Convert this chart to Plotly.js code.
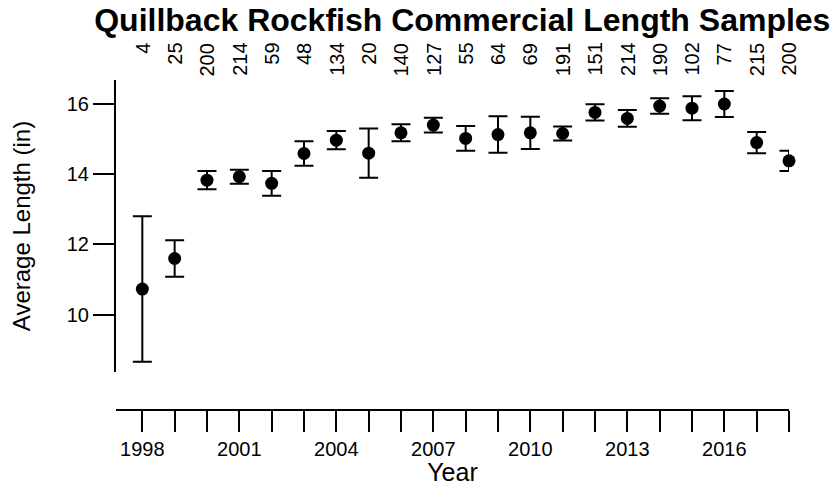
<!DOCTYPE html>
<html>
<head>
<meta charset="utf-8">
<script src="https://cdn.plot.ly/plotly-3.0.1.min.js"></script>
<style>html,body{margin:0;padding:0;background:#fff;}#chart{width:836px;height:486px;}</style>
</head>
<body>
<div id="chart"></div>
<script>
// Data
var years = [1998,1999,2000,2001,2002,2003,2004,2005,2006,2007,2008,2009,2010,2011,2012,2013,2014,2015,2016,2017,2018];
var avgLength = [10.73,11.60,13.83,13.93,13.74,14.59,14.97,14.60,15.18,15.40,15.02,15.13,15.18,15.16,15.76,15.59,15.94,15.88,16.00,14.90,14.38];
var errLength = [2.07,0.52,0.26,0.20,0.35,0.35,0.26,0.70,0.24,0.21,0.35,0.52,0.46,0.20,0.23,0.24,0.22,0.34,0.37,0.30,0.29];
var sampleCounts = ["4","25","200","214","59","48","134","20","140","127","55","64","69","191","151","214","190","102","77","215","200"];
var xTickVals = years;
var xTickText = ["1998","","","2001","","","2004","","","2007","","","2010","","","2013","","","2016","",""];
var yTickVals = [10,12,14,16];

var FONT = '"Liberation Sans", Arial, sans-serif';

var trace = {
  x: years,
  y: avgLength,
  type: 'scatter',
  mode: 'markers',
  marker: {color: '#000', size: 13, symbol: 'circle'},
  error_y: {type: 'data', array: errLength, visible: true, color: '#000', thickness: 2, width: 9.5},
  cliponaxis: false,
  hoverinfo: 'x+y'
};

var annotations = years.map(function (yr, i) {
  return {
    x: yr, xref: 'x', y: 1.115, yref: 'paper',
    text: sampleCounts[i], textangle: -90, showarrow: false,
    xanchor: 'center', yanchor: 'top', borderpad: 0,
    font: {family: FONT, size: 20, color: '#000'}
  };
});

var layout = {
  width: 836, height: 486,
  margin: {l: 116, r: 47, t: 80, b: 76, pad: 0},
  paper_bgcolor: '#fff', plot_bgcolor: '#fff',
  showlegend: false,
  font: {family: FONT, color: '#000'},
  title: {
    text: '<b>Quillback Rockfish Commercial Length Samples</b>',
    font: {family: FONT, size: 32, color: '#000'},
    x: 0.553, xref: 'container', xanchor: 'center',
    y: 0.959, yref: 'container', yanchor: 'middle'
  },
  xaxis: {
    range: [1997.186, 2018],
    anchor: 'free', position: 0,
    showline: true, linecolor: '#000', linewidth: 2,
    ticks: 'outside', ticklen: 21, tickwidth: 2, tickcolor: '#000',
    tickmode: 'array', tickvals: xTickVals, ticktext: xTickText,
    tickfont: {family: FONT, size: 20, color: '#000'},
    showgrid: false, zeroline: false,
    title: {text: 'Year', font: {family: FONT, size: 25, color: '#000'}, standoff: 0}
  },
  yaxis: {
    domain: [0.1152, 1],
    range: [8.368, 16.683],
    showline: true, linecolor: '#000', linewidth: 2,
    ticks: 'outside', ticklen: 21, tickwidth: 2, tickcolor: '#000',
    tickmode: 'array', tickvals: yTickVals,
    tickfont: {family: FONT, size: 20, color: '#000'},
    showgrid: false, zeroline: false,
    title: {text: 'Average Length (in)', font: {family: FONT, size: 24, color: '#000'}, standoff: 29}
  },
  annotations: annotations
};

Plotly.newPlot('chart', [trace], layout, {displayModeBar: false, staticPlot: true});
</script>
</body>
</html>
